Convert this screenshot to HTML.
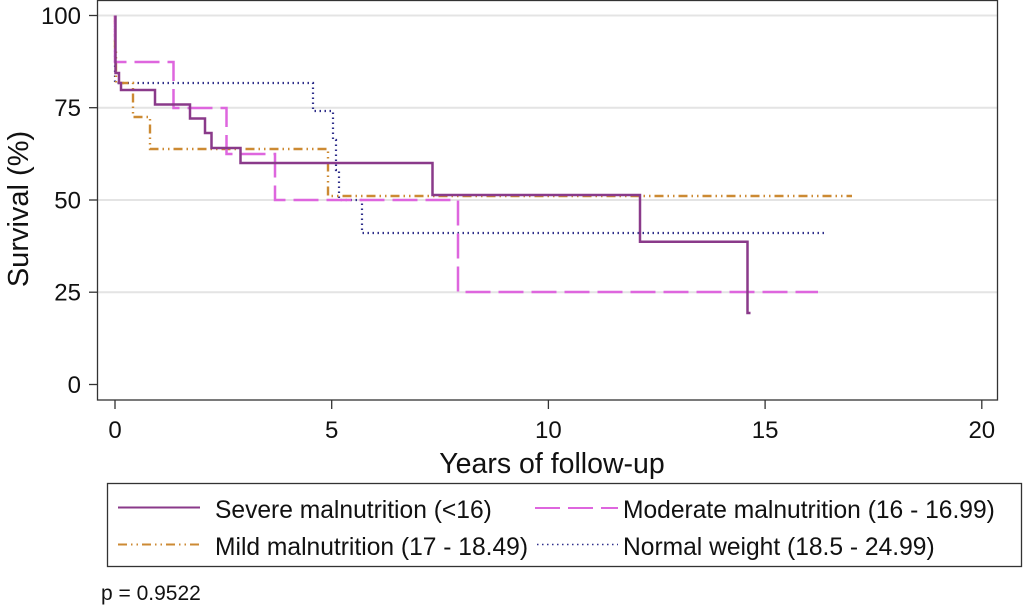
<!DOCTYPE html>
<html>
<head>
<meta charset="utf-8">
<style>
  html, body { margin: 0; padding: 0; background: #ffffff; }
  svg { display: block; }
  text { font-family: "Liberation Sans", Arial, sans-serif; fill: #111; }
</style>
</head>
<body>
<svg width="1024" height="605" viewBox="0 0 1024 605" xmlns="http://www.w3.org/2000/svg">
  <rect x="0" y="0" width="1024" height="605" fill="#ffffff"/>

  <!-- gridlines -->
  <g stroke="#e4e4e4" stroke-width="2">
    <line x1="98" y1="15.5" x2="997" y2="15.5"/>
    <line x1="98" y1="107.7" x2="997" y2="107.7"/>
    <line x1="98" y1="200" x2="997" y2="200"/>
    <line x1="98" y1="292.2" x2="997" y2="292.2"/>
  </g>

  <!-- plot frame -->
  <rect x="97.5" y="0.5" width="900" height="399.5" fill="none" stroke="#333" stroke-width="1.3"/>

  <!-- y ticks -->
  <g stroke="#333" stroke-width="1.3">
    <line x1="89" y1="15.5" x2="97.5" y2="15.5"/>
    <line x1="89" y1="107.7" x2="97.5" y2="107.7"/>
    <line x1="89" y1="200" x2="97.5" y2="200"/>
    <line x1="89" y1="292.2" x2="97.5" y2="292.2"/>
    <line x1="89" y1="384.5" x2="97.5" y2="384.5"/>
  </g>
  <g font-size="24" text-anchor="end">
    <text x="81" y="24">100</text>
    <text x="81" y="116">75</text>
    <text x="81" y="208.5">50</text>
    <text x="81" y="300.5">25</text>
    <text x="81" y="393">0</text>
  </g>

  <!-- x ticks -->
  <g stroke="#333" stroke-width="1.3">
    <line x1="115" y1="400" x2="115" y2="409"/>
    <line x1="331.7" y1="400" x2="331.7" y2="409"/>
    <line x1="548.4" y1="400" x2="548.4" y2="409"/>
    <line x1="765.1" y1="400" x2="765.1" y2="409"/>
    <line x1="981.8" y1="400" x2="981.8" y2="409"/>
  </g>
  <g font-size="24" text-anchor="middle">
    <text x="115" y="438">0</text>
    <text x="331.7" y="438">5</text>
    <text x="548.4" y="438">10</text>
    <text x="765.1" y="438">15</text>
    <text x="981.8" y="438">20</text>
  </g>

  <!-- axis titles -->
  <text x="552" y="473" font-size="28.5" text-anchor="middle">Years of follow-up</text>
  <text transform="translate(28,209) rotate(-90)" font-size="29" text-anchor="middle">Survival (%)</text>

  <!-- series -->
  <!-- Normal weight: navy dotted -->
  <path d="M115,15.5 V83 H313 V111 H333 V140 H336 V170 H339 V200 H362 V233 H825"
        fill="none" stroke="#2e2e8a" stroke-width="2.2" stroke-dasharray="1.5,3.5"/>
  <!-- Mild: orange dash-dot-dot -->
  <path d="M115,15.5 V49 H116 V83 H133 V117 H150 V149 H328 V196 H852"
        fill="none" stroke="#cc8a33" stroke-width="2.4" stroke-dasharray="9,4,1.5,4,1.5,4"/>
  <!-- Moderate: magenta long dash -->
  <path d="M115,15.5 V62 H173.5 V108 H226.5 V154 H275 V200 H458 V292 H818"
        fill="none" stroke="#de66de" stroke-width="2.5" stroke-dasharray="25,8"/>
  <!-- Severe: purple solid -->
  <path d="M115.5,15.5 V73 H119 V83 H121 V90 H155 V104.5 H190 V118.5 H205 V133 H211.5 V148 H240.5 V163 H432.5 V195 H640 V241.7 H747.5 V313 H750.5"
        fill="none" stroke="#8a3a8a" stroke-width="2.5"/>

  <!-- legend -->
  <rect x="107.5" y="483.5" width="914" height="83" fill="#fff" stroke="#333" stroke-width="1.3"/>
  <line x1="118" y1="507.5" x2="200" y2="507.5" stroke="#8a3a8a" stroke-width="2"/>
  <text x="215" y="518" font-size="24.6">Severe malnutrition (&lt;16)</text>
  <line x1="118" y1="544.5" x2="200" y2="544.5" stroke="#cc8a33" stroke-width="2" stroke-dasharray="9,4,1.5,4,1.5,4"/>
  <text x="215" y="555" font-size="24.6">Mild malnutrition (17 - 18.49)</text>
  <line x1="535" y1="508" x2="618" y2="508" stroke="#de66de" stroke-width="2" stroke-dasharray="25,8"/>
  <text x="623" y="518" font-size="24.6">Moderate malnutrition (16 - 16.99)</text>
  <line x1="537" y1="544.5" x2="618" y2="544.5" stroke="#2e2e8a" stroke-width="1.6" stroke-dasharray="1.5,3.5"/>
  <text x="623" y="555" font-size="24.6">Normal weight (18.5 - 24.99)</text>

  <text x="101" y="600" font-size="21">p = 0.9522</text>
</svg>
</body>
</html>
